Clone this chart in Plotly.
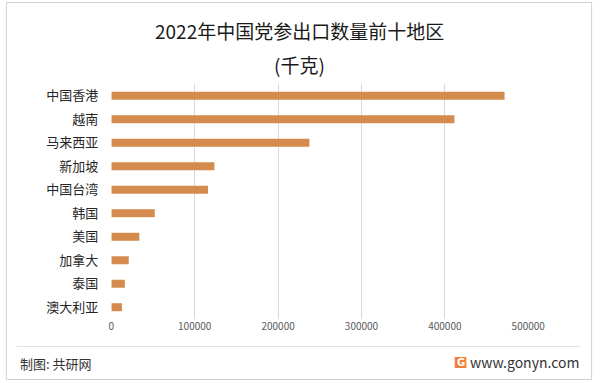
import plotly.graph_objects as go

W, H = 612, 383

regions = ["中国香港", "越南", "马来西亚", "新加坡", "中国台湾", "韩国", "美国", "加拿大", "泰国", "澳大利亚"]
values = [471600, 411400, 237500, 123600, 115900, 52100, 33600, 20900, 16200, 12700]
x_ticks = [0, 100000, 200000, 300000, 400000, 500000]
title_text = "2022年中国党参出口数量前十地区"
subtitle_text = "(千克)"
source_text = "制图: 共研网"
site_text = "www.gonyn.com"

FONT = "Noto Sans CJK SC, Microsoft YaHei, sans-serif"

def px(x):
    return x / W

def py(y):
    return 1 - y / H

fig = go.Figure()
fig.add_trace(go.Bar(
    x=values, y=regions, orientation="h",
    marker=dict(color="#D48B4D", line=dict(width=0)),
    width=0.35, hoverinfo="x+y",
))

shapes = [
    dict(type="rect", xref="paper", yref="paper",
         x0=px(3.5), x1=px(608.5), y0=py(379.5), y1=py(2.5),
         line=dict(color="#D0D0D0", width=1), fillcolor="rgba(0,0,0,0)", layer="below"),
    dict(type="line", xref="paper", yref="paper",
         x0=px(14), x1=px(597), y0=py(346.5), y1=py(346.5),
         line=dict(color="#E3E3E3", width=1)),
    dict(type="rect", xref="paper", yref="paper",
         x0=px(467), x1=px(479), y0=py(368), y1=py(357),
         line=dict(width=0), fillcolor="#F27F3A"),
]

fig.update_layout(
    width=W, height=H,
    margin=dict(l=0, r=0, t=0, b=0),
    paper_bgcolor="white", plot_bgcolor="white",
    showlegend=False,
    font=dict(family=FONT, color="#404040"),
    xaxis=dict(
        domain=[px(112), px(543)], range=[0, 500000],
        tickvals=x_ticks, ticktext=[str(v) for v in x_ticks],
        showgrid=True, gridcolor="#D9D9D9", gridwidth=1,
        zeroline=False, showline=False, ticks="",
        tickfont=dict(size=10, color="#595959", family=FONT),
        anchor="y",
    ),
    yaxis=dict(
        domain=[py(319), py(84)],
        categoryorder="array", categoryarray=regions,
        autorange="reversed",
        showgrid=False, zeroline=False, showline=False, ticks="",
        tickfont=dict(size=13, color="#262626", family=FONT),
        ticklabelstandoff=12,
        anchor="x",
    ),
    annotations=[
        dict(text=title_text, x=px(306), y=py(31), xref="paper", yref="paper",
             showarrow=False, font=dict(size=19, color="#1a1a1a", family=FONT),
             xanchor="center", yanchor="middle"),
        dict(text=subtitle_text, x=px(306), y=py(65), xref="paper", yref="paper",
             showarrow=False, font=dict(size=19, color="#1a1a1a", family=FONT),
             xanchor="center", yanchor="middle"),
        dict(text=source_text, x=px(15), y=py(363), xref="paper", yref="paper",
             showarrow=False, font=dict(size=13, color="#333333", family=FONT),
             xanchor="left", yanchor="middle"),
        dict(text=site_text, x=px(598), y=py(362), xref="paper", yref="paper",
             showarrow=False, font=dict(size=14, color="#333333", family=FONT),
             xanchor="right", yanchor="middle"),
        dict(text="<b>G</b>", x=px(473), y=py(362.5), xref="paper", yref="paper",
             showarrow=False, font=dict(size=10, color="white", family="DejaVu Sans"),
             xanchor="center", yanchor="middle"),
    ],
    shapes=shapes,
)

fig.write_html(
    "out.html",
    config={"displayModeBar": False, "responsive": False},
    post_script="document.body.style.margin='0';document.body.style.overflow='hidden';",
)
